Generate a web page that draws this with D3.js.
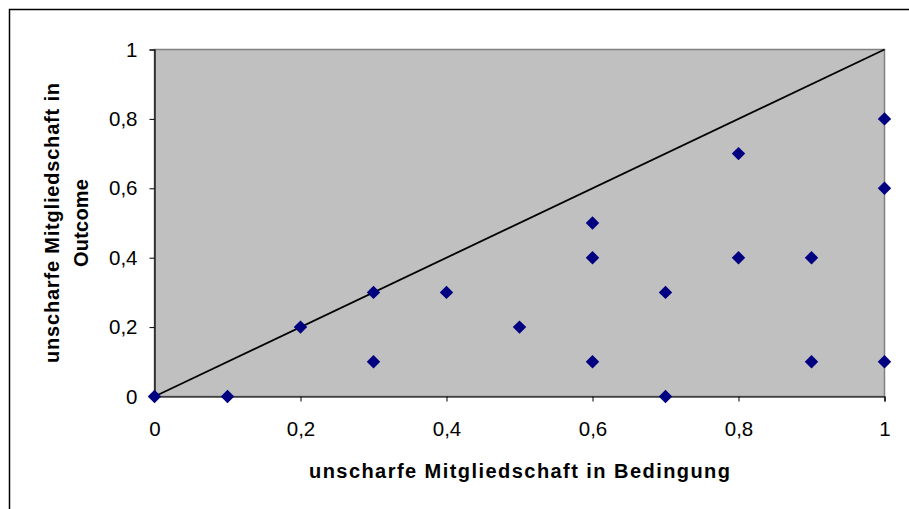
<!DOCTYPE html>
<html><head><meta charset="utf-8">
<script src="https://cdn.jsdelivr.net/npm/d3@7"></script>
<style>body{margin:0;background:#fff}svg{display:block}text{font-family:"Liberation Sans",Arial,sans-serif}</style>
</head><body><svg id="c" width="909" height="509"></svg>
<script>
const xValues = [0, 0.1, 0.2, 0.3, 0.3, 0.4, 0.5, 0.6, 0.6, 0.6, 0.7, 0.7, 0.8, 0.8, 0.9, 0.9, 1, 1, 1];
const yValues = [0, 0, 0.2, 0.3, 0.1, 0.3, 0.2, 0.5, 0.4, 0.1, 0.3, 0, 0.7, 0.4, 0.4, 0.1, 0.8, 0.6, 0.1];
const tickValues = [0, 0.2, 0.4, 0.6, 0.8, 1];
const tickLabels = ["0", "0,2", "0,4", "0,6", "0,8", "1"];
const xTitle = "unscharfe Mitgliedschaft in Bedingung";
const yTitleLines = ["unscharfe Mitgliedschaft in", "Outcome"];

const svg = d3.select("#c");
svg.append("rect").attr("x",9.5).attr("y",9.5).attr("width",920).attr("height",520)
  .attr("fill","#fff").attr("stroke","#000").attr("stroke-width",1.5);

const L=154.5, R=884.5, T=49.5, B=396.5;
const x = d3.scaleLinear().domain([0,1]).range([L,R]);
const y = d3.scaleLinear().domain([0,1]).range([B,T]);

svg.append("rect").attr("x",L).attr("y",T).attr("width",R-L).attr("height",B-T)
  .attr("fill","#c0c0c0").attr("stroke","#808080").attr("stroke-width",1.5);

const fmt = d => tickLabels[tickValues.indexOf(d)];
const gx = svg.append("g").attr("transform",`translate(0,${B})`)
  .call(d3.axisBottom(x).tickValues(tickValues).tickFormat(fmt).tickSize(5).tickPadding(20));
const gy = svg.append("g").attr("transform",`translate(${L},0)`)
  .call(d3.axisLeft(y).tickValues(tickValues).tickFormat(fmt).tickSize(5).tickPadding(12));
[gx,gy].forEach(g=>{
  g.select(".domain").attr("stroke","#000").attr("stroke-width",1.2);
  g.selectAll(".tick line").attr("stroke","#000");
  g.selectAll(".tick text").attr("font-size",20.5).attr("fill","#000")
   .attr("font-family","Liberation Sans, Arial, sans-serif");
});

svg.append("line").attr("x1",x(0)).attr("y1",y(0)).attr("x2",x(1)).attr("y2",y(1))
  .attr("stroke","#000").attr("stroke-width",1.8);

const pts = xValues.map((v,i)=>[v,yValues[i]]);
svg.append("g").selectAll("path").data(pts).join("path")
  .attr("d", d3.symbol(d3.symbolDiamond2, 115))
  .attr("transform", d=>`translate(${x(d[0])},${y(d[1])})`)
  .attr("fill","#000080");

svg.append("text").attr("x",519.5).attr("y",478).attr("text-anchor","middle")
  .attr("font-size",20).attr("font-weight","bold")
  .attr("textLength",421).attr("lengthAdjust","spacing").text(xTitle);

const yt = svg.append("g").attr("transform",`translate(59,${(T+B)/2}) rotate(-90)`);
const yLens = [280, 88];
yTitleLines.forEach((t,i)=>yt.append("text").attr("x",0).attr("y",i*29)
  .attr("text-anchor","middle").attr("font-size",20).attr("font-weight","bold")
  .attr("textLength",yLens[i]).attr("lengthAdjust","spacing").text(t));
</script></body></html>
